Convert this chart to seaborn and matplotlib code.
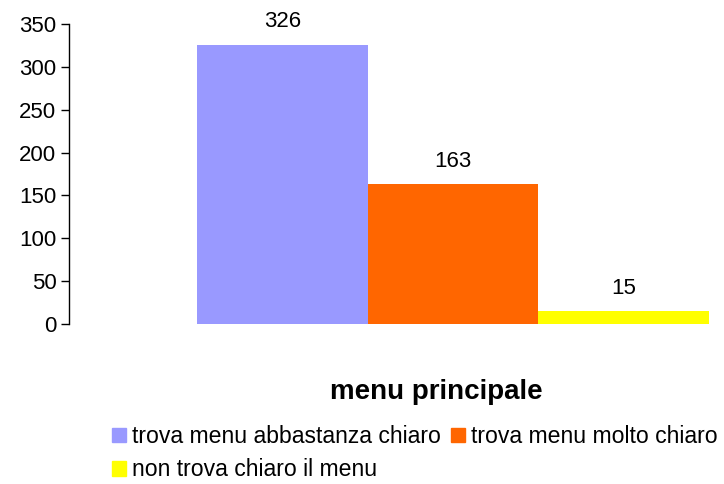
import matplotlib
matplotlib.use("Agg")
import matplotlib.pyplot as plt
import matplotlib.patches as mpatches
import pandas as pd
import seaborn as sns

# data
categories = ["trova menu abbastanza chiaro", "trova menu molto chiaro", "non trova chiaro il menu"]
counts = [326, 163, 15]
colors = ["#9999FF", "#FF6600", "#FFFF00"]
title = "menu principale"

sns.set_theme(style="white")
plt.rcParams['font.family'] = ['Liberation Sans', 'DejaVu Sans']
plt.rcParams['text.color'] = 'black'

df = pd.DataFrame({"risposta": categories, "n": counts})

fig = plt.figure(figsize=(7.24, 4.84), dpi=100)
ax = fig.add_axes([0.0953, 0.3306, 0.9047, 0.6198])

sns.barplot(data=df, x="risposta", y="n", hue="risposta", palette=colors,
            width=1.0, saturation=1, legend=False, linewidth=0, ax=ax)

for c in ax.containers:
    ax.bar_label(c, fontsize=16, padding=9, color="black")

ax.set_xlim(-1.252, 2.589)
ax.set_ylim(0, 350)
ax.set_yticks(range(0, 351, 50))
ax.set_xticks([])
ax.set_xlabel("")
ax.set_ylabel("")
ax.tick_params(axis="y", labelsize=16, length=6, width=1, direction="out",
               left=True, color="black", labelcolor="black", pad=3)
for side in ["top", "right", "bottom"]:
    ax.spines[side].set_visible(False)
ax.spines["left"].set_color("black")
ax.spines["left"].set_linewidth(1)

fig.text(0.602, 0.19, title, ha="center", va="center", fontsize=20,
         fontweight="bold", color="black")

handles = [mpatches.Patch(color=col, label=lab) for col, lab in zip(colors, categories)]
order = [0, 2, 1]
fig.legend([handles[i] for i in order], [categories[i] for i in order],
           ncol=2, loc="upper left", bbox_to_anchor=(0.155, 0.122), frameon=False,
           fontsize=16.6, handlelength=0.6, handleheight=0.6, handletextpad=0.26,
           columnspacing=0.43, labelspacing=0.45, borderpad=0, borderaxespad=0)

fig.savefig("out.png", dpi=100, facecolor="white")
